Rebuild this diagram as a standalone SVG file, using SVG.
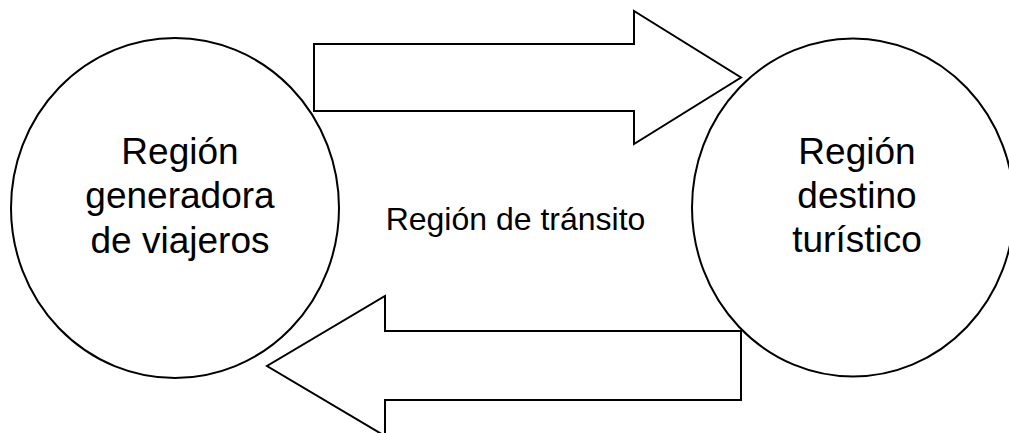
<svg xmlns="http://www.w3.org/2000/svg" width="1009" height="433" viewBox="0 0 1009 433">
<style>
.node{fill:#fff;stroke:#000;stroke-width:2}
.arrow{fill:#fff;stroke:#000;stroke-width:2;stroke-linejoin:miter}
.big{font-family:"Liberation Sans",Arial,sans-serif;font-size:37px;fill:#000;text-anchor:middle}
.mid{font-family:"Liberation Sans",Arial,sans-serif;font-size:32px;fill:#000;text-anchor:middle}
</style>
<rect width="1009" height="433" fill="#fff"/>
<g id="origen">
<ellipse class="node" cx="175" cy="208" rx="164" ry="170"/>
<text class="big" x="180" y="164">Región</text>
<text class="big" x="180" y="208">generadora</text>
<text class="big" x="180" y="253">de viajeros</text>
</g>
<g id="destino">
<ellipse class="node" cx="853" cy="207.5" rx="161" ry="169"/>
<text class="big" x="857" y="164">Región</text>
<text class="big" x="857" y="207.5">destino</text>
<text class="big" x="857" y="252">turístico</text>
</g>
<g id="transito">
<text class="mid" x="515.5" y="230">Región de tránsito</text>
</g>
<g id="connectors">
<polygon class="arrow" points="314,44 634,44 634,11 741,77.5 634,144 634,111 314,111"/>
<polygon class="arrow" points="741,331 385,331 385,296 267,366 385,436 385,400 741,400"/>
</g>
</svg>
